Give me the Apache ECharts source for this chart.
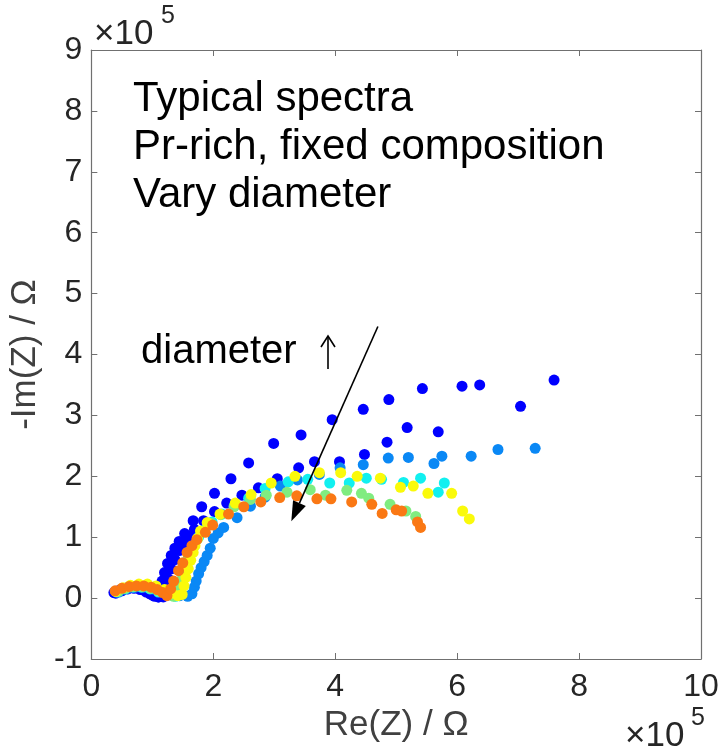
<!DOCTYPE html>
<html>
<head>
<meta charset="utf-8">
<script src="https://cdn.jsdelivr.net/npm/echarts@6/dist/echarts.min.js"></script>
<style>
  html, body { margin: 0; padding: 0; background: #ffffff; }
  #chart { width: 723px; height: 748px; }
</style>
</head>
<body>
<div id="chart"></div>
<script>
// values are in units of 1e5 Ohm: [Re(Z), -Im(Z)]
const xTicks = [0, 2, 4, 6, 8, 10]
const yTicks = [-1, 0, 1, 2, 3, 4, 5, 6, 7, 8, 9]

const blueOuter = [
  [0.37, 0.09], [0.46, 0.13], [0.56, 0.16], [0.66, 0.18], [0.76, 0.17], [0.86, 0.13], [0.96, 0.07], [1.04, 0.03], [1.10, 0.02],
  [1.13, 0.14], [1.16, 0.28], [1.20, 0.42], [1.25, 0.57], [1.31, 0.70], [1.37, 0.82], [1.44, 0.93], [1.53, 1.06], [1.67, 1.27],
  [1.81, 1.50], [2.02, 1.72], [2.29, 1.96], [2.58, 2.22], [2.99, 2.54], [3.44, 2.68], [3.95, 2.93], [4.46, 3.10], [4.88, 3.26],
  [5.43, 3.44], [6.08, 3.48], [6.37, 3.50], [7.59, 3.58]
]
const blueInner = [
  [0.40, 0.08], [0.50, 0.12], [0.60, 0.15], [0.70, 0.16], [0.80, 0.14], [0.90, 0.10], [1.00, 0.05], [1.10, 0.02], [1.18, 0.02],
  [1.22, 0.16], [1.26, 0.32], [1.31, 0.48], [1.37, 0.63], [1.44, 0.78], [1.52, 0.91], [1.60, 1.02], [1.69, 1.13], [1.84, 1.27],
  [2.02, 1.42], [2.22, 1.56], [2.47, 1.69], [2.74, 1.81], [3.05, 1.96], [3.40, 2.14], [3.66, 2.24], [4.07, 2.24], [4.48, 2.36],
  [4.85, 2.56], [5.18, 2.80], [5.69, 2.73], [7.04, 3.15]
]
const azure = [
  [0.45, 0.10], [0.58, 0.15], [0.72, 0.18], [0.86, 0.18], [1.00, 0.15], [1.14, 0.11], [1.30, 0.07], [1.45, 0.04], [1.58, 0.03],
  [1.65, 0.07], [1.69, 0.18], [1.72, 0.28], [1.76, 0.40], [1.80, 0.50], [1.85, 0.60], [1.90, 0.70], [1.95, 0.82], [2.00, 0.98],
  [2.08, 1.07], [2.17, 1.16], [2.39, 1.32], [2.61, 1.51], [2.85, 1.66], [3.10, 1.84], [3.38, 1.94], [3.74, 2.03], [4.08, 2.14],
  [4.46, 2.19], [4.87, 2.30], [5.20, 2.31], [5.62, 2.21], [5.75, 2.33], [6.23, 2.33], [6.67, 2.44], [7.28, 2.46]
]
const cyan = [
  [0.42, 0.10], [0.55, 0.15], [0.68, 0.18], [0.82, 0.18], [0.96, 0.15], [1.10, 0.10], [1.25, 0.05], [1.38, 0.03],
  [1.42, 0.12], [1.46, 0.28], [1.50, 0.43], [1.55, 0.58], [1.61, 0.72], [1.68, 0.86], [1.76, 1.00], [1.86, 1.12], [1.98, 1.25],
  [2.14, 1.38], [2.35, 1.52], [2.58, 1.64], [2.85, 1.80], [3.23, 1.91], [3.55, 1.95], [3.91, 1.89], [4.23, 1.89], [4.51, 1.97],
  [4.76, 1.95], [5.12, 1.90], [5.40, 1.97], [5.69, 1.74], [5.79, 1.89]
]
const green = [
  [0.44, 0.11], [0.56, 0.16], [0.69, 0.19], [0.83, 0.19], [0.97, 0.16], [1.11, 0.11], [1.24, 0.06], [1.35, 0.03],
  [1.40, 0.10], [1.44, 0.26], [1.48, 0.41], [1.53, 0.56], [1.59, 0.70], [1.66, 0.84], [1.74, 0.97], [1.84, 1.10], [1.96, 1.23],
  [2.12, 1.37], [2.34, 1.50], [2.61, 1.62], [2.87, 1.69], [3.21, 1.74], [3.59, 1.78], [3.84, 1.69], [4.19, 1.77], [4.43, 1.72],
  [4.55, 1.64], [4.90, 1.54], [5.16, 1.43], [5.32, 1.34]
]
const yellow = [
  [0.40, 0.11], [0.52, 0.17], [0.64, 0.21], [0.78, 0.23], [0.92, 0.23], [1.06, 0.20], [1.20, 0.14], [1.32, 0.08], [1.42, 0.04],
  [1.49, 0.06], [1.52, 0.20], [1.55, 0.34], [1.59, 0.48], [1.63, 0.62], [1.67, 0.75], [1.70, 0.86], [1.74, 0.98], [1.79, 1.10],
  [1.90, 1.24], [2.11, 1.38], [2.36, 1.56], [2.62, 1.70], [2.95, 1.89], [3.34, 2.00], [3.74, 2.06], [4.09, 2.06], [4.36, 2.00],
  [4.74, 1.97], [5.07, 1.82], [5.28, 1.84], [5.52, 1.72], [5.91, 1.72], [6.09, 1.43], [6.20, 1.30]
]
const orange = [
  [0.39, 0.12], [0.50, 0.16], [0.62, 0.19], [0.74, 0.20], [0.86, 0.20], [0.98, 0.18], [1.08, 0.14], [1.17, 0.09], [1.24, 0.04],
  [1.30, 0.15], [1.35, 0.28], [1.43, 0.45], [1.50, 0.58], [1.57, 0.75], [1.65, 0.86], [1.73, 0.96], [1.87, 1.08], [1.99, 1.20],
  [2.25, 1.38], [2.50, 1.50], [2.78, 1.58], [3.09, 1.65], [3.37, 1.68], [3.70, 1.63], [3.93, 1.63], [4.27, 1.58], [4.60, 1.54],
  [4.77, 1.39], [5.00, 1.45], [5.09, 1.43], [5.35, 1.25], [5.40, 1.16]
]
// annotation arrow (tail, tip) in data coords
const arrowFrom = [4.70, 4.46]
const arrowTo = [3.28, 1.26]

const spectra = [
  { name: 'd1', data: blueOuter, color: '#0000ff' },
  { name: 'd2', data: blueInner, color: '#0000ff' },
  { name: 'd3', data: azure, color: '#0a88f5' },
  { name: 'd4', data: cyan, color: '#11f0f0' },
  { name: 'd5', data: green, color: '#80ec80' },
  { name: 'd6', data: yellow, color: '#fafa0a' },
  { name: 'd7', data: orange, color: '#fa7814' }
]

const FONT = '"Liberation Sans", Arial, sans-serif'
const lineCol = '#707070'
const textCol = '#262626'

const chartDom = document.getElementById('chart')
const myChart = echarts.init(chartDom, null, { renderer: 'canvas' })

const series = spectra.map(s => ({
  name: s.name,
  type: 'scatter',
  data: s.data,
  symbolSize: 11,
  itemStyle: { color: s.color, opacity: 1 },
  emphasis: { disabled: true }
}))

const baseX = {
  type: 'value',
  min: xTicks[0],
  max: xTicks[xTicks.length - 1],
  interval: 2,
  splitLine: { show: false },
  axisLine: { show: true, onZero: false, lineStyle: { color: lineCol, width: 1.2 } },
  axisTick: { show: true, inside: true, length: 6, lineStyle: { color: lineCol } }
}
const baseY = {
  type: 'value',
  min: yTicks[0],
  max: yTicks[yTicks.length - 1],
  interval: 1,
  splitLine: { show: false },
  axisLine: { show: true, onZero: false, lineStyle: { color: lineCol, width: 1.2 } },
  axisTick: { show: true, inside: true, length: 6, lineStyle: { color: lineCol } }
}

const textGraphics = [
  {
    id: 'info', type: 'text', left: 133, top: 75,
    style: {
      text: 'Typical spectra\nPr-rich, fixed composition\nVary diameter',
      font: '42px ' + FONT, fill: '#000', lineHeight: 48
    }
  },
  { id: 'diam', type: 'text', left: 141, top: 332, style: { text: 'diameter', font: '40px ' + FONT, fill: '#000' } },
  { id: 'upShaft', type: 'line', shape: { x1: 328, y1: 369, x2: 328, y2: 336 }, style: { stroke: '#000', lineWidth: 1.6 } },
  { id: 'upHead', type: 'polyline', shape: { points: [[321, 347], [328, 336], [335, 347]] }, style: { stroke: '#000', lineWidth: 1.6, fill: null } },
  { id: 'topX', type: 'text', left: 94, top: 17, style: { text: '×10', font: '35px ' + FONT, fill: textCol } },
  { id: 'topE', type: 'text', left: 161, top: 4, style: { text: '5', font: '25px ' + FONT, fill: textCol } },
  { id: 'botX', type: 'text', left: 625, top: 719, style: { text: '×10', font: '35px ' + FONT, fill: textCol } },
  { id: 'botE', type: 'text', left: 691, top: 706, style: { text: '5', font: '25px ' + FONT, fill: textCol } }
]

const option = {
  animation: false,
  backgroundColor: '#ffffff',
  grid: { left: 91, top: 50, width: 610, height: 610 },
  xAxis: [
    Object.assign({}, baseX, {
      position: 'bottom',
      name: 'Re(Z) / Ω',
      nameLocation: 'middle',
      nameGap: 49,
      nameTextStyle: { fontFamily: FONT, fontSize: 35, color: '#404040' },
      axisLabel: { fontFamily: FONT, fontSize: 32, color: textCol, margin: 12 }
    }),
    Object.assign({}, baseX, { position: 'top', axisLabel: { show: false } })
  ],
  yAxis: [
    Object.assign({}, baseY, {
      position: 'left',
      name: '-Im(Z) / Ω',
      nameLocation: 'middle',
      nameGap: 47,
      nameRotate: 90,
      nameTextStyle: { fontFamily: FONT, fontSize: 35, color: '#404040' },
      axisLabel: { fontFamily: FONT, fontSize: 32, color: textCol, margin: 9 }
    }),
    Object.assign({}, baseY, { position: 'right', axisLabel: { show: false } })
  ],
  graphic: textGraphics,
  series: series
}

option && myChart.setOption(option)

// arrow through the data scale
const p0 = myChart.convertToPixel({ gridIndex: 0 }, arrowFrom)
const p1 = myChart.convertToPixel({ gridIndex: 0 }, arrowTo)
const dx = p1[0] - p0[0]
const dy = p1[1] - p0[1]
const len = Math.sqrt(dx * dx + dy * dy)
const ux = dx / len
const uy = dy / len
const headLen = 20
const headHalf = 7
const bx = p1[0] - ux * headLen
const by = p1[1] - uy * headLen
myChart.setOption({
  graphic: [
    { id: 'arrowLine', type: 'line', z: 100, shape: { x1: p0[0], y1: p0[1], x2: bx, y2: by }, style: { stroke: '#000', lineWidth: 1.6 } },
    {
      id: 'arrowHead', type: 'polygon', z: 100,
      shape: { points: [[p1[0], p1[1]], [bx - uy * headHalf, by + ux * headHalf], [bx + uy * headHalf, by - ux * headHalf]] },
      style: { fill: '#000' }
    }
  ]
})
</script>
</body>
</html>
